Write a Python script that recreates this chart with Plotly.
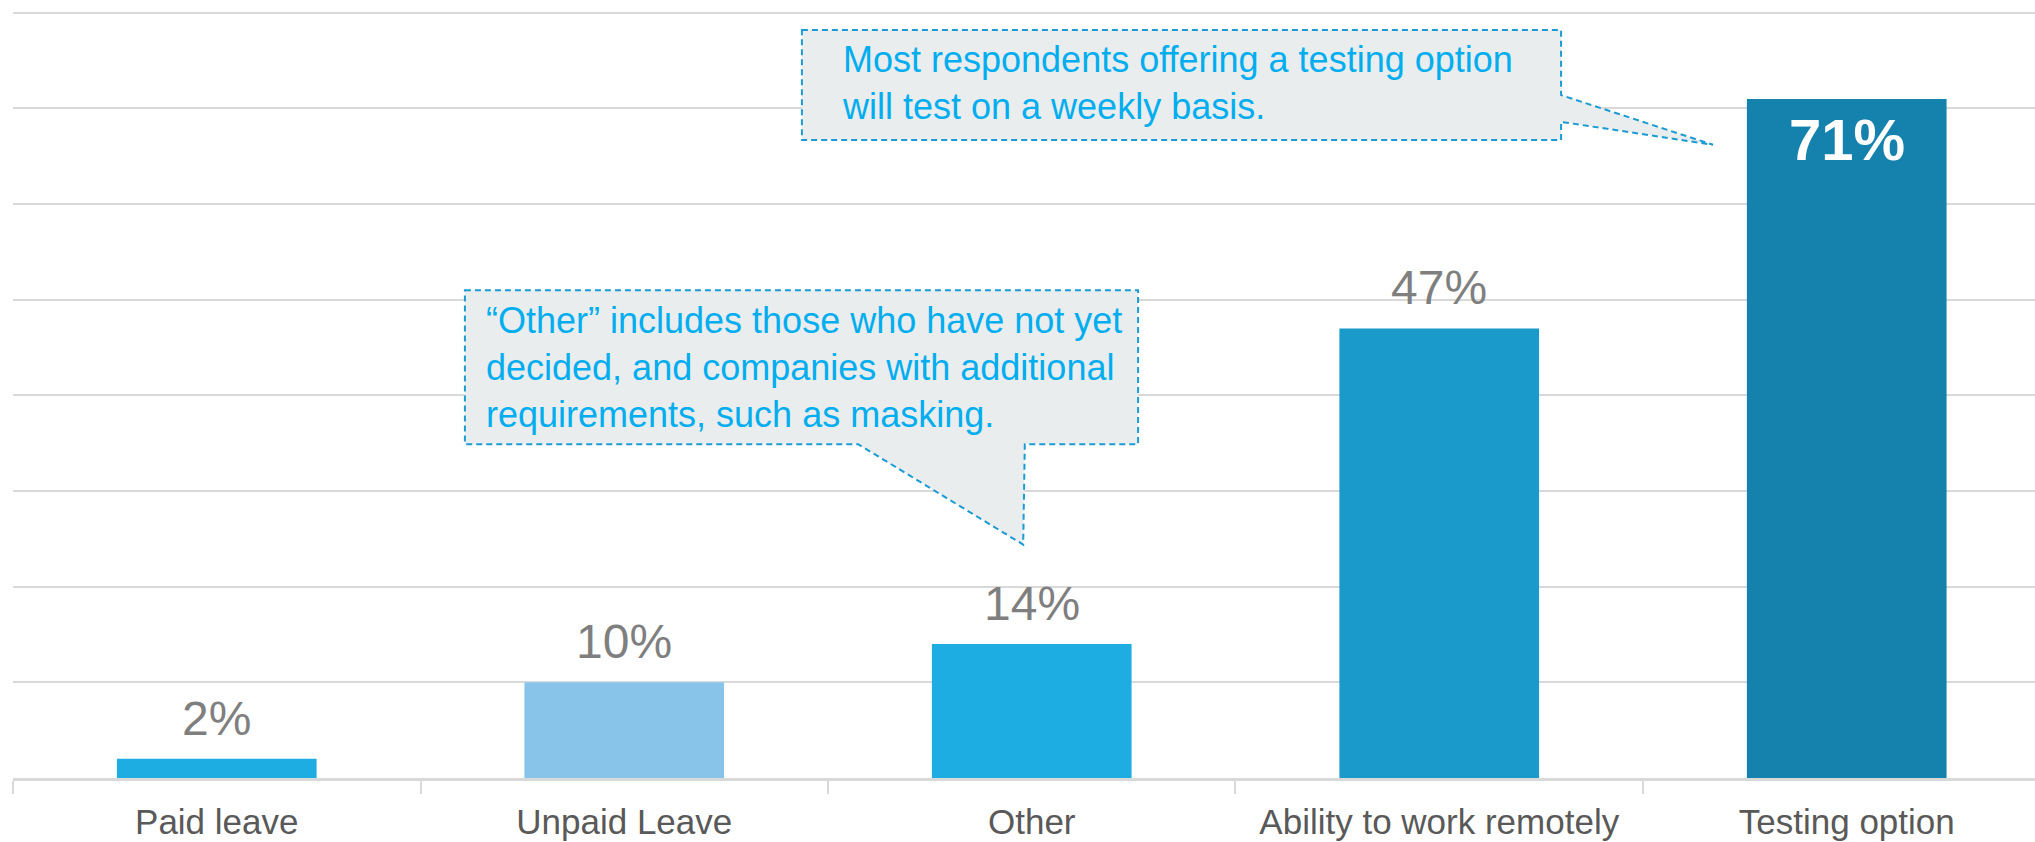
import plotly.graph_objects as go

# ---- data ----
categories = ["Paid leave", "Unpaid Leave", "Other", "Ability to work remotely", "Testing option"]
values = [2, 10, 14, 47, 71]
bar_colors = ["#1EADE3", "#88C4EA", "#1EADE3", "#1A9ACA", "#1581AD"]
value_labels = ["2%", "10%", "14%", "47%", "71%"]

note_testing = "Most respondents offering a testing option<br>will test on a weekly basis."
note_other = ("\u201cOther\u201d includes those who have not yet<br>"
              "decided, and companies with additional<br>"
              "requirements, such as masking.")

FONT = "Liberation Sans, Arial, sans-serif"
GRID = "#d9d9d9"
NOTE_FILL = "#E9EDEE"
NOTE_LINE = "#1B9BD3"
NOTE_TEXT = "#00AEEF"

fig = go.Figure()

fig.add_trace(go.Bar(
    x=categories,
    y=values,
    width=0.49,
    marker=dict(color=bar_colors, line=dict(width=0)),
    hoverinfo="x+y",
    showlegend=False,
))

# value labels: grey above the bar, last one white inside
for i, (cat, v, lab) in enumerate(zip(categories, values, value_labels)):
    if i == len(categories) - 1:
        fig.add_annotation(x=cat, y=v, text=lab, showarrow=False,
                           yanchor="top", yshift=-6,
                           font=dict(family=FONT, size=58, color="white", weight="bold"))
    else:
        fig.add_annotation(x=cat, y=v, text=lab, showarrow=False,
                           yanchor="bottom", yshift=12,
                           font=dict(family=FONT, size=48, color="#7F7F7F"))


def callout(box, base_a, base_b, tip, side):
    # box = (x0, x1, ytop, ybottom) in category-index / percent units
    x0, x1, yt, yb = box
    if side == "right":
        pts = [(x0, yt), (x1, yt), (x1, base_a), tip, (x1, base_b), (x1, yb), (x0, yb)]
    else:  # pointer hangs from the bottom edge
        pts = [(x0, yt), (x1, yt), (x1, yb), (base_b, yb), tip, (base_a, yb), (x0, yb)]
    path = "M " + " L ".join(f"{px},{py}" for px, py in pts) + " Z"
    fig.add_shape(type="path", path=path, xref="x", yref="y",
                  fillcolor=NOTE_FILL, layer="above",
                  line=dict(color=NOTE_LINE, width=2, dash="6px,4px"))


callout((1.436, 3.299, 78.2, 66.7), 71.4, 68.6, (3.672, 66.2), "right")
callout((0.609, 2.261, 51.0, 34.9), 1.574, 1.983, (1.979, 24.4), "bottom")

fig.add_annotation(x=1.530, y=77.5, xref="x", yref="y", text=note_testing,
                   showarrow=False, xanchor="left", yanchor="top", align="left",
                   font=dict(family=FONT, size=36, color=NOTE_TEXT))
fig.add_annotation(x=0.655, y=50.2, xref="x", yref="y", text=note_other,
                   showarrow=False, xanchor="left", yanchor="top", align="left",
                   font=dict(family=FONT, size=36, color=NOTE_TEXT))

fig.update_layout(
    width=2035, height=842,
    margin=dict(l=13, r=0, t=9, b=64),
    paper_bgcolor="white", plot_bgcolor="white",
    font=dict(family=FONT, color="#595959"),
)
fig.update_xaxes(
    type="category", categoryorder="array", categoryarray=categories,
    range=[-0.5, 4.462],
    tickson="boundaries", ticks="outside", ticklen=13, tickwidth=2, tickcolor=GRID,
    showline=True, linecolor=GRID, linewidth=3,
    showgrid=False,
    tickfont=dict(family=FONT, size=35, color="#595959"),
    ticklabelstandoff=11,
    automargin=False, fixedrange=True,
)
fig.update_yaxes(
    range=[0, 80.4], dtick=10, showticklabels=False,
    showgrid=True, gridcolor=GRID, gridwidth=2,
    zeroline=False, automargin=False, fixedrange=True,
)

# drop the default body margin so the fixed-size figure sits at the page corner
fig.write_html("out.html",
               config={"displayModeBar": False},
               post_script="document.body.style.margin='0';document.body.style.overflow='hidden';")
